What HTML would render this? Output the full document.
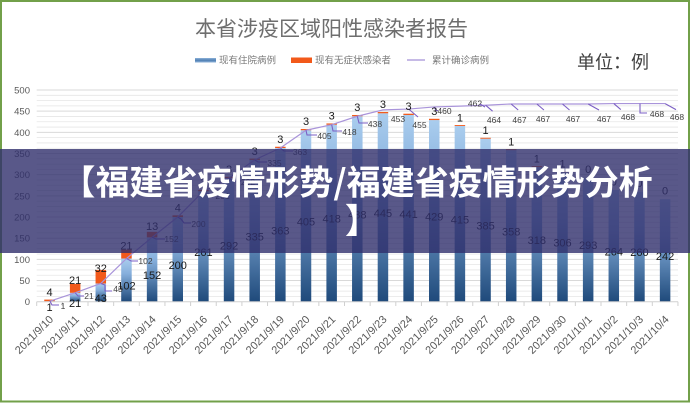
<!DOCTYPE html>
<html><head><meta charset="utf-8"><style>
html,body{margin:0;padding:0;background:#fff;}
svg{display:block;}
</style></head><body>
<svg width="690" height="403" viewBox="0 0 690 403" xmlns="http://www.w3.org/2000/svg" font-family="'Liberation Sans','Noto Sans CJK SC',sans-serif">
<defs>
<linearGradient id="bg" x1="0" y1="0" x2="0" y2="1">
<stop offset="0" stop-color="#aacdee"/>
<stop offset="0.35" stop-color="#86afdc"/>
<stop offset="1" stop-color="#1f4a7b"/>
</linearGradient>
<linearGradient id="lg" x1="0" y1="0" x2="0" y2="1">
<stop offset="0" stop-color="#8fb3da"/>
<stop offset="0.5" stop-color="#4f7fb3"/>
<stop offset="1" stop-color="#8fb3da"/>
</linearGradient>
</defs>
<rect x="0" y="0" width="690" height="403" fill="#fff"/>
<rect x="1" y="1" width="688" height="400.5" fill="none" stroke="#72a04a" stroke-width="2"/>

<text x="331.5" y="36" text-anchor="middle" font-size="21" fill="#6e6e6e" font-family="'Noto Sans CJK SC',sans-serif">本省涉疫区域阳性感染者报告</text>
<rect x="195" y="58" width="21" height="4.5" fill="url(#lg)"/>
<text x="219" y="63.6" font-size="9.5" fill="#7a7a7a" font-family="'Noto Sans CJK SC',sans-serif">现有住院病例</text>
<rect x="291" y="57.5" width="21" height="5.5" fill="#f2591a"/>
<text x="315" y="63.6" font-size="9.5" fill="#7a7a7a" font-family="'Noto Sans CJK SC',sans-serif">现有无症状感染者</text>
<line x1="407" y1="60" x2="425" y2="60" stroke="#a591d6" stroke-width="1.2"/>
<text x="432" y="63.6" font-size="9.5" fill="#7a7a7a" font-family="'Noto Sans CJK SC',sans-serif">累计确诊病例</text>
<text x="577" y="68.3" font-size="18" fill="#404040" font-family="'Noto Sans CJK SC',sans-serif">单位：例</text>

<path stroke="#e6e6e6" stroke-width="0.8" fill="none" d="M36.7 95.29H678M36.7 100.59H678M36.7 105.88H678M36.7 116.46H678M36.7 121.76H678M36.7 127.05H678M36.7 137.63H678M36.7 142.93H678M36.7 148.22H678M36.7 158.8H678M36.7 164.1H678M36.7 169.39H678M36.7 179.97H678M36.7 185.27H678M36.7 190.56H678M36.7 201.14H678M36.7 206.44H678M36.7 211.73H678M36.7 222.31H678M36.7 227.61H678M36.7 232.9H678M36.7 243.48H678M36.7 248.78H678M36.7 254.07H678M36.7 264.65H678M36.7 269.95H678M36.7 275.24H678M36.7 285.82H678M36.7 291.12H678M36.7 296.41H678"/>
<path stroke="#d9d9d9" stroke-width="1" fill="none" d="M36.7 90H678M36.7 111.17H678M36.7 132.34H678M36.7 153.51H678M36.7 174.68H678M36.7 195.85H678M36.7 217.02H678M36.7 238.19H678M36.7 259.36H678M36.7 280.53H678"/>
<g font-size="9.5" fill="#595959" text-anchor="end">
<text x="30" y="93.5">500</text><text x="30" y="114.7">450</text><text x="30" y="135.8">400</text><text x="30" y="157">350</text><text x="30" y="178.2">300</text><text x="30" y="199.4">250</text><text x="30" y="220.5">200</text><text x="30" y="241.7">150</text><text x="30" y="262.9">100</text><text x="30" y="284">50</text><text x="30" y="305.2">0</text>
</g>

<g fill="url(#bg)">
<rect x="44.25" y="301.28" width="10.5" height="0.42"/>
<rect x="69.9" y="292.81" width="10.5" height="8.89"/>
<rect x="95.55" y="283.49" width="10.5" height="18.21"/>
<rect x="121.2" y="258.51" width="10.5" height="43.19"/>
<rect x="146.85" y="237.34" width="10.5" height="64.36"/>
<rect x="172.5" y="217.02" width="10.5" height="84.68"/>
<rect x="198.15" y="191.19" width="10.5" height="110.51"/>
<rect x="223.8" y="178.07" width="10.5" height="123.63"/>
<rect x="249.45" y="159.86" width="10.5" height="141.84"/>
<rect x="275.1" y="148.01" width="10.5" height="153.69"/>
<rect x="300.75" y="130.23" width="10.5" height="171.47"/>
<rect x="326.4" y="124.72" width="10.5" height="176.98"/>
<rect x="352.05" y="116.25" width="10.5" height="185.45"/>
<rect x="377.7" y="113.29" width="10.5" height="188.41"/>
<rect x="403.35" y="114.98" width="10.5" height="186.72"/>
<rect x="429" y="120.06" width="10.5" height="181.64"/>
<rect x="454.65" y="125.99" width="10.5" height="175.71"/>
<rect x="480.3" y="138.69" width="10.5" height="163.01"/>
<rect x="505.95" y="150.12" width="10.5" height="151.58"/>
<rect x="531.6" y="167.06" width="10.5" height="134.64"/>
<rect x="557.25" y="172.14" width="10.5" height="129.56"/>
<rect x="582.9" y="177.65" width="10.5" height="124.05"/>
<rect x="608.55" y="189.92" width="10.5" height="111.78"/>
<rect x="634.2" y="191.62" width="10.5" height="110.08"/>
<rect x="659.85" y="199.24" width="10.5" height="102.46"/>
</g>
<g fill="#f2591a">
<rect x="44.25" y="299.59" width="10.5" height="1.69"/>
<rect x="69.9" y="283.92" width="10.5" height="8.89"/>
<rect x="95.55" y="269.94" width="10.5" height="13.55"/>
<rect x="121.2" y="249.62" width="10.5" height="8.89"/>
<rect x="146.85" y="231.84" width="10.5" height="5.5"/>
<rect x="172.5" y="215.33" width="10.5" height="1.69"/>
<rect x="198.15" y="189.92" width="10.5" height="1.27"/>
<rect x="223.8" y="176.8" width="10.5" height="1.27"/>
<rect x="249.45" y="158.59" width="10.5" height="1.27"/>
<rect x="275.1" y="146.74" width="10.5" height="1.27"/>
<rect x="300.75" y="128.96" width="10.5" height="1.27"/>
<rect x="326.4" y="123.45" width="10.5" height="1.27"/>
<rect x="352.05" y="114.98" width="10.5" height="1.27"/>
<rect x="377.7" y="112.02" width="10.5" height="1.27"/>
<rect x="403.35" y="113.71" width="10.5" height="1.27"/>
<rect x="429" y="118.79" width="10.5" height="1.27"/>
<rect x="454.65" y="125.09" width="10.5" height="0.9"/>
<rect x="480.3" y="137.79" width="10.5" height="0.9"/>
<rect x="505.95" y="149.22" width="10.5" height="0.9"/>
<rect x="531.6" y="166.16" width="10.5" height="0.9"/>
<rect x="557.25" y="171.24" width="10.5" height="0.9"/>
</g>

<path stroke="#d0d0d0" stroke-width="1" fill="none" d="M36.7 301.7H678M36.7 301.7V306M62.35 301.7V306M88 301.7V306M113.65 301.7V306M139.3 301.7V306M164.95 301.7V306M190.6 301.7V306M216.25 301.7V306M241.9 301.7V306M267.55 301.7V306M293.2 301.7V306M318.85 301.7V306M344.5 301.7V306M370.15 301.7V306M395.8 301.7V306M421.45 301.7V306M447.1 301.7V306M472.75 301.7V306M498.4 301.7V306M524.05 301.7V306M549.7 301.7V306M575.35 301.7V306M601 301.7V306M626.65 301.7V306M652.3 301.7V306M677.95 301.7V306"/>
<g font-size="11" fill="#595959" text-anchor="end">
<text transform="translate(54,320) rotate(-45)">2021/9/10</text>
<text transform="translate(79.65,320) rotate(-45)">2021/9/11</text>
<text transform="translate(105.3,320) rotate(-45)">2021/9/12</text>
<text transform="translate(130.95,320) rotate(-45)">2021/9/13</text>
<text transform="translate(156.6,320) rotate(-45)">2021/9/14</text>
<text transform="translate(182.25,320) rotate(-45)">2021/9/15</text>
<text transform="translate(207.9,320) rotate(-45)">2021/9/16</text>
<text transform="translate(233.55,320) rotate(-45)">2021/9/17</text>
<text transform="translate(259.2,320) rotate(-45)">2021/9/18</text>
<text transform="translate(284.85,320) rotate(-45)">2021/9/19</text>
<text transform="translate(310.5,320) rotate(-45)">2021/9/20</text>
<text transform="translate(336.15,320) rotate(-45)">2021/9/21</text>
<text transform="translate(361.8,320) rotate(-45)">2021/9/22</text>
<text transform="translate(387.45,320) rotate(-45)">2021/9/23</text>
<text transform="translate(413.1,320) rotate(-45)">2021/9/24</text>
<text transform="translate(438.75,320) rotate(-45)">2021/9/25</text>
<text transform="translate(464.4,320) rotate(-45)">2021/9/26</text>
<text transform="translate(490.05,320) rotate(-45)">2021/9/27</text>
<text transform="translate(515.7,320) rotate(-45)">2021/9/28</text>
<text transform="translate(541.35,320) rotate(-45)">2021/9/29</text>
<text transform="translate(567,320) rotate(-45)">2021/9/30</text>
<text transform="translate(592.65,320) rotate(-45)">2021/10/1</text>
<text transform="translate(618.3,320) rotate(-45)">2021/10/2</text>
<text transform="translate(643.95,320) rotate(-45)">2021/10/3</text>
<text transform="translate(669.6,320) rotate(-45)">2021/10/4</text>
</g>

<polyline fill="none" stroke="#a994da" stroke-width="1.2" points="49.5,301.28 75.15,292.81 100.8,283.49 126.45,258.51 152.1,237.34 177.75,217.02 203.4,191.19 229.05,178.07 254.7,159.86 280.35,148.01 306,130.23 331.65,124.72 357.3,116.25 382.95,109.9 408.6,109.05 434.25,106.94 459.9,106.09 485.55,105.24 511.2,103.97 536.85,103.97 562.5,103.97 588.15,103.97 613.8,103.55 639.45,103.55 665.1,103.55"/>
<g fill="none" stroke="#7b5fc4" stroke-width="1.1">
<polyline points="50,301.3 52,305 59,305"/>
<polyline points="75.2,292.8 78,296 84,296"/>
<polyline points="100.8,283.5 105,285 105,291 112,291"/>
<polyline points="126.5,258.5 131,261 138,261"/>
<polyline points="152.1,237.3 156,239 165,239"/>
<polyline points="177.8,217 181,219 184,223 191,223"/>
<polyline points="203.4,191.2 207,194 215,194"/>
<polyline points="229,178 233,181 241,181"/>
<polyline points="254.7,159.9 258,162 267,162"/>
<polyline points="280.4,148 284,151 293,151"/>
<polyline points="306,130.2 307,135 317,135"/>
<polyline points="331.7,124.7 333,131 342,131"/>
<polyline points="357.3,116.3 359,123 368,123"/>
<polyline points="408.6,109 418,117"/>
<polyline points="434.3,107 436,110.5 438,110.5"/>
<polyline points="480,104 485,107"/>
<polyline points="485.6,105.2 492.6,111.2"/>
<polyline points="511.2,104 518.2,110"/>
<polyline points="536.9,104 543.9,110"/>
<polyline points="562.5,104 569.5,110"/>
<polyline points="588.2,104 599,110"/>
<polyline points="613.8,103.6 620.8,109.6"/>
<polyline points="640,103.6 640,113 647,113"/>
<polyline points="665.1,103.6 676,109.6"/>
</g>
<g font-size="8.5" fill="#404040" text-anchor="middle">
<text x="63" y="309">1</text>
<text x="89" y="299">21</text>
<text x="118" y="292">43</text>
<text x="145.5" y="264">102</text>
<text x="171.5" y="242">152</text>
<text x="198.5" y="227">200</text>
<text x="222.5" y="199">261</text>
<text x="248" y="185">292</text>
<text x="274.5" y="166">335</text>
<text x="300" y="155">363</text>
<text x="324.5" y="139">405</text>
<text x="349.5" y="135">418</text>
<text x="375" y="127">438</text>
<text x="398" y="122">453</text>
<text x="419.5" y="128">455</text>
<text x="444.5" y="114">460</text>
<text x="475" y="106.3">462</text>
<text x="494" y="123">464</text>
<text x="519.5" y="123">467</text>
<text x="543" y="122">467</text>
<text x="573" y="122">467</text>
<text x="604" y="122">467</text>
<text x="628" y="120">468</text>
<text x="657" y="117">468</text>
<text x="677" y="120">468</text>
</g>

<g font-size="11" fill="#1a1a1a" text-anchor="middle">
<text x="49.5" y="311">1</text>
<text x="75.15" y="306.8">21</text>
<text x="100.8" y="302.1">43</text>
<text x="126.45" y="289.6">102</text>
<text x="152.1" y="279">152</text>
<text x="177.75" y="268.9">200</text>
<text x="203.4" y="255.9">261</text>
<text x="229.05" y="249.4">292</text>
<text x="254.7" y="240.3">335</text>
<text x="280.35" y="234.4">363</text>
<text x="306" y="225.5">405</text>
<text x="331.65" y="222.7">418</text>
<text x="357.3" y="218.5">438</text>
<text x="382.95" y="217">445</text>
<text x="408.6" y="217.8">441</text>
<text x="434.25" y="220.4">429</text>
<text x="459.9" y="223.3">415</text>
<text x="485.55" y="229.7">385</text>
<text x="511.2" y="235.4">358</text>
<text x="536.85" y="243.9">318</text>
<text x="562.5" y="246.4">306</text>
<text x="588.15" y="249.2">293</text>
<text x="613.8" y="255.3">264</text>
<text x="639.45" y="256.2">260</text>
<text x="665.1" y="260">242</text>
</g>
<g font-size="11" fill="#1a1a1a" text-anchor="middle">
<text x="49.5" y="295.9">4</text>
<text x="75.15" y="283.9">21</text>
<text x="100.8" y="272.2">32</text>
<text x="126.45" y="249.6">21</text>
<text x="152.1" y="230.1">13</text>
<text x="177.75" y="211.7">4</text>
<text x="203.4" y="186.1">3</text>
<text x="229.05" y="173">3</text>
<text x="254.7" y="154.8">3</text>
<text x="280.35" y="142.9">3</text>
<text x="306" y="125.1">3</text>
<text x="331.65" y="119.6">3</text>
<text x="357.3" y="111.1">3</text>
<text x="382.95" y="108.2">3</text>
<text x="408.6" y="109.9">3</text>
<text x="434.25" y="115">3</text>
<text x="459.9" y="121.3">1</text>
<text x="485.55" y="134">1</text>
<text x="511.2" y="145.4">1</text>
<text x="536.85" y="162.4">1</text>
<text x="562.5" y="167.4">1</text>
<text x="588.15" y="173.2">0</text>
<text x="613.8" y="185.4">0</text>
<text x="639.45" y="187.1">0</text>
<text x="665.1" y="194.7">0</text>
</g>

<rect x="0" y="149" width="690" height="104" fill="#302e6c" fill-opacity="0.8"/>
<g font-family="'Noto Sans CJK SC','WenQuanYi Zen Hei',sans-serif" font-weight="bold" font-size="34" fill="#ffffff" text-anchor="middle">
<text x="357" y="194.4">【福建省疫情形势/福建省疫情形势分析</text>
<text x="362" y="233">】</text>
</g>
</svg>
</body></html>
